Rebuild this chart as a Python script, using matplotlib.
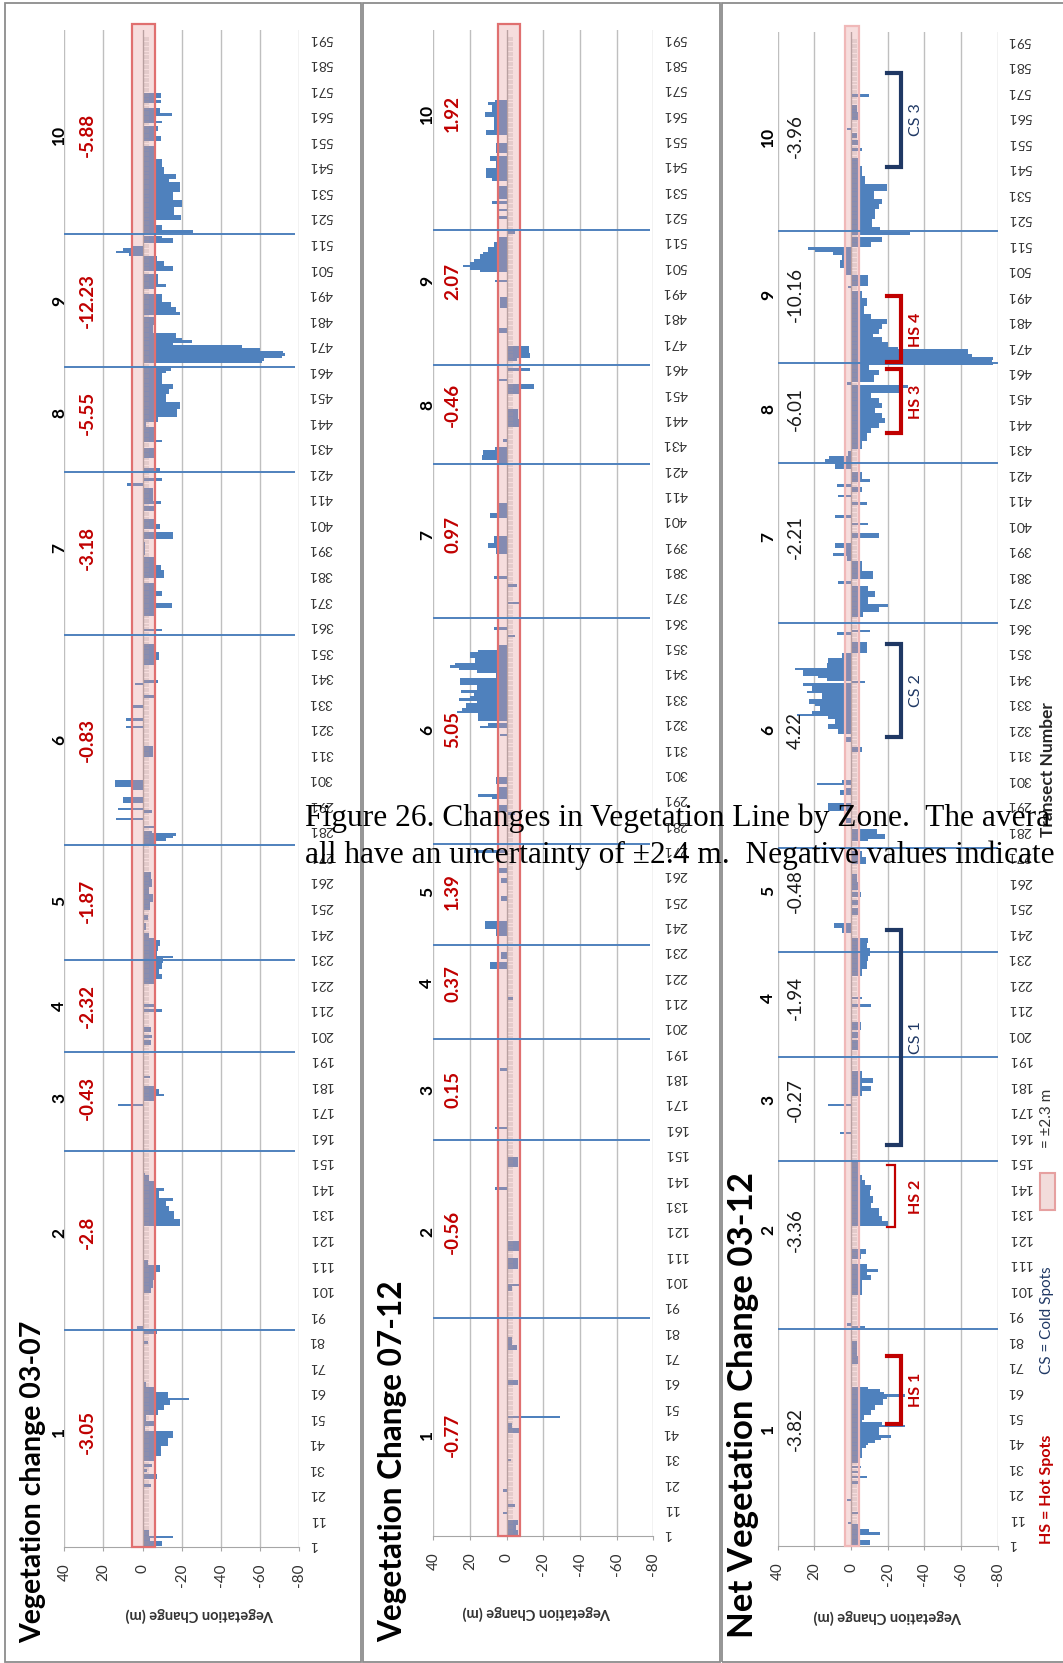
import numpy as np
import matplotlib
matplotlib.use("Agg")
import matplotlib.pyplot as plt
from matplotlib.patches import Rectangle

plt.rcParams['font.family'] = ['Lato', 'DejaVu Sans']

W, H = 1063, 1663

# transect labels / zones
TRANSECT_TICKS = list(range(1, 592, 10))
ZONES = [str(i) for i in range(1, 11)]

P1_AVG = ['-3.05', '-2.8', '-0.43', '-2.32', '-1.87', '-0.83', '-3.18', '-5.55', '-12.23', '-5.88']
P2_AVG = ['-0.77', '-0.56', '0.15', '0.37', '1.39', '5.05', '0.97', '-0.46', '2.07', '1.92']
P3_AVG = ['-3.82', '-3.36', '-0.27', '-1.94', '-0.48', '4.22', '-2.21', '-6.01', '-10.16', '-3.96']

# zone boundaries (transect no.)
P1_BOUNDS = [85, 155, 194, 230, 275, 357, 421, 462, 514]
P2_BOUNDS = [86, 156, 196, 233, 273, 362, 423, 462, 515]
P3_BOUNDS = [85, 151, 192, 233, 274, 362, 425, 464, 516]

# where the zone number / average sits (transect no.)
P1_LABEL_T = [45, 123, 176, 212, 253, 316, 391, 444, 488, 553]
P2_LABEL_T = [40, 120, 176, 218, 254, 318, 395, 446, 495, 561]
P3_LABEL_T = [46, 124, 175, 215, 257, 320, 396, 446, 491, 553]

# bars: (first transect, last transect, change in m)
P1_SEG = [
    (1, 2, -10), (3, 3, -4), (4, 4, -15.5), (5, 6, -3.5), (24, 24, -4.5), (27, 28, -7.5), (30, 30, -2.5), (32, 32, -5),
    (34, 35, -6), (36, 39, -9.5), (40, 42, -13), (43, 45, -15.5), (46, 47, -1.5), (48, 49, -6), (50, 51, -2),
    (52, 53, -8), (54, 55, -11), (56, 57, -14), (58, 58, -24), (59, 60, -13), (61, 62, -7), (63, 64, -2), (75, 76, -1),
    (80, 80, -3), (84, 84, -7.5), (86, 86, 3),
    (100, 101, -4.5), (102, 104, -5.5), (105, 107, -7), (108, 110, -9), (111, 112, -3),
    (126, 128, -19), (129, 131, -16), (132, 133, -13.5), (134, 135, -12), (136, 136, -15.5), (137, 139, -8.5),
    (140, 140, -11), (141, 143, -7), (144, 145, -3.5), (146, 146, -1.5),
    (173, 173, 12.5), (175, 176, -7), (177, 177, -11), (178, 179, -8.3), (180, 180, -6), (184, 184, -4),
    (197, 198, -4.5), (200, 200, -5), (202, 203, -4.5), (210, 210, -10), (212, 212, -6),
    (221, 222, -6), (223, 224, -10), (225, 226, -8.5), (227, 228, -10), (229, 230, -10.5), (231, 231, -15.5),
    (232, 233, -7.5), (234, 235, -8), (236, 237, -9), (238, 238, -6), (239, 240, -3.5),
    (242, 244, -2), (246, 247, -3), (250, 252, -4), (253, 255, -5.5), (256, 258, -3.5), (259, 261, -5), (262, 264, -4.5),
    (275, 276, -7), (277, 277, -12), (278, 278, -15.5), (279, 279, -17), (280, 280, -5), (282, 282, -6), (285, 285, 13.5),
    (288, 288, -5), (289, 289, 12.5), (292, 293, 10), (297, 297, 5), (298, 300, 14),
    (310, 313, -5.5), (321, 321, 8.3), (324, 324, 8.3), (329, 329, 5.8), (333, 333, -6.6), (338, 338, 4), (339, 339, -7.8),
    (346, 347, -7), (348, 350, -8.5), (351, 353, -6.5),
    (359, 359, -10), (365, 367, -6), (368, 369, -15), (370, 372, -7), (373, 374, -10), (375, 377, -6), (380, 382, -11),
    (383, 384, -9.5), (385, 387, -6), (389, 393, -1.5),
    (395, 397, -15.5), (399, 400, -9), (401, 402, -6), (406, 407, -7), (409, 409, -9.5), (410, 414, -5.5), (416, 416, 8),
    (418, 418, -10), (421, 422, -8.7),
    (427, 430, -6), (433, 433, -10), (434, 438, -6), (439, 440, -2), (441, 442, -8), (443, 445, -17.5), (446, 448, -19),
    (449, 451, -12), (452, 453, -13.5), (454, 455, -15.5), (456, 459, -10), (460, 460, -12), (461, 462, -14.5),
    (464, 464, -61), (465, 465, -62), (466, 466, -71.5), (467, 467, -73), (468, 468, -72), (469, 469, -60), (470, 470, -51),
    (471, 471, -15.5), (472, 472, -25.5), (473, 473, -20), (474, 475, -17), (476, 478, -5.5), (479, 481, -6.5),
    (483, 483, -19), (484, 485, -17), (486, 487, -14.5), (488, 490, -10), (493, 493, -7), (494, 494, -12), (495, 498, -8),
    (500, 501, -15.5), (502, 503, -11), (504, 505, -7.5),
    (506, 506, 7), (507, 507, 13.5), (508, 508, 10), (509, 509, 6), (511, 512, -15.5), (513, 513, -10),
    (515, 515, -26), (516, 517, -10), (518, 519, -6), (520, 521, -19.5), (522, 524, -16), (525, 527, -20), (528, 530, -15.5),
    (531, 534, -19), (535, 535, -13.5), (536, 537, -17), (538, 540, -11),
    (541, 543, -10), (544, 546, -7), (547, 548, -6), (551, 552, -9.5), (553, 554, -6), (555, 556, -8), (558, 558, -10),
    (559, 560, -7), (561, 561, -15), (562, 563, -9), (566, 566, -9.5), (567, 567, -6), (568, 569, -9.5),
]

P2_SEG = [
    (1, 2, -6), (3, 4, -5), (5, 6, -6), (9, 9, 2), (12, 12, -4.5), (18, 18, 2), (30, 30, -2.5), (41, 42, -8), (43, 44, -3),
    (47, 47, -29), (60, 61, -6), (74, 75, -5.5), (76, 78, -3),
    (97, 98, -3), (99, 99, -8), (106, 109, -6), (113, 116, -7.5), (137, 137, 6.4), (146, 149, -6),
    (161, 161, 6.4), (184, 184, 3.6), (212, 212, -3.6), (224, 226, 9), (228, 230, 3),
    (237, 239, 6), (240, 242, 12), (251, 252, 3), (258, 259, 3), (262, 263, 4.5), (270, 270, 18),
    (285, 285, -4.5), (286, 288, 5), (291, 291, 8), (292, 292, 15.5), (293, 295, 4), (297, 299, 6), (316, 316, 3.6),
    (319, 319, 14.5), (320, 320, 10), (322, 324, 15.5), (325, 325, 27),
    (326, 326, 24.5), (327, 328, 22), (329, 329, 16), (330, 330, 26), (331, 331, 20), (332, 332, 18), (333, 333, 25),
    (334, 335, 16), (336, 338, 25.5),
    (339, 340, 6), (341, 341, 16), (342, 342, 26), (343, 343, 31), (344, 344, 28), (345, 346, 17), (347, 348, 20),
    (349, 349, 15.5), (350, 351, 5.5), (355, 355, -4.5), (358, 358, 7),
    (368, 368, -8), (375, 375, -5.5), (378, 378, 7), (388, 389, 6), (390, 391, 10), (392, 392, 7), (393, 394, 7),
    (402, 403, 9), (404, 407, 5.5),
    (423, 424, 5.5), (425, 426, 13.6), (427, 428, 12.7), (429, 429, 6.4), (432, 432, 2), (438, 440, -7), (441, 444, -6),
    (451, 452, -7), (453, 454, -15), (456, 456, 5.5), (460, 460, -13),
    (464, 464, -5.5), (465, 466, -12.5), (467, 469, -12), (475, 476, 4.5), (485, 488, 3.5), (495, 495, 6.4),
    (499, 499, 14.5), (500, 500, 20), (501, 501, 23.6), (502, 502, 20), (503, 503, 18), (504, 505, 14.5), (506, 506, 12.7),
    (507, 508, 10), (509, 510, 7), (511, 512, 5.5),
    (514, 515, -4.5), (520, 520, 4.5), (523, 523, 5.5), (526, 526, 8), (528, 532, 5.5), (535, 535, 8), (536, 539, 11),
    (540, 542, 6), (543, 544, 9), (546, 549, 6), (553, 554, 11), (555, 556, 7), (557, 559, 7), (560, 561, 12),
    (562, 564, 8), (565, 565, 10), (566, 566, 6.4),
]

P3_SEG = [
    (1, 2, -10.5), (3, 4, -5), (5, 5, -16), (6, 6, -10), (7, 8, -4), (9, 9, 1.5), (13, 13, -4.5), (18, 18, 2), (25, 25, -4),
    (27, 27, -8.5), (29, 29, -4), (31, 31, -5.5), (33, 34, -4.5), (35, 38, -6), (39, 39, -8), (40, 40, -9.5), (41, 41, -13),
    (42, 42, -16.5), (43, 43, -22), (44, 46, -15), (47, 47, -29.5), (48, 48, -17), (49, 49, -6),
    (50, 51, -7), (52, 53, -11), (54, 55, -13), (56, 57, -17.5), (58, 58, -19.5), (59, 59, -29.5), (60, 60, -18),
    (61, 61, -16), (62, 62, -9.5), (72, 74, -5), (75, 80, -3), (86, 86, -7.6), (87, 87, 2.4),
    (99, 103, -6), (104, 104, -6), (105, 106, -11), (107, 107, -8.5), (108, 108, -14.5), (109, 110, -8.5), (113, 114, -5.5),
    (115, 116, -8),
    (126, 127, -20), (128, 129, -17), (130, 132, -15), (133, 134, -11), (135, 137, -12), (138, 139, -10.4), (140, 141, -11),
    (142, 143, -7.5), (144, 145, -5.8), (146, 150, -5),
    (162, 162, 6), (173, 173, 12.4), (177, 178, -6), (179, 180, -11), (181, 181, -6), (182, 183, -12), (184, 186, -6),
    (195, 198, -5), (200, 201, -4), (203, 205, -5.5), (212, 212, -11), (215, 215, -5.8), (224, 226, -6), (227, 229, -8.5),
    (230, 231, -9.5), (232, 234, -10.4), (235, 236, -8.5), (237, 238, -9.5),
    (241, 242, 5), (243, 244, 9.5), (248, 250, -5), (252, 253, -4.5), (255, 256, -5.5), (258, 260, -4.5), (261, 263, -3.5),
    (268, 270, -8), (271, 272, -6),
    (277, 277, -9.5), (278, 279, -18.5), (280, 281, -14), (284, 285, 3.3), (289, 291, 12.4), (295, 296, 6), (297, 297, 3),
    (299, 299, 18.7), (300, 300, 5), (312, 313, -5.8), (316, 317, 3.3),
    (319, 320, 7), (321, 322, 12.4), (323, 324, 9), (325, 325, 12.4), (326, 326, 29.6), (327, 327, 21.5), (328, 329, 17),
    (330, 330, 19.6), (331, 332, 23), (333, 334, 16), (335, 335, 24), (336, 337, 21.5), (338, 338, 26), (339, 339, -7.6),
    (340, 340, 13.3), (341, 341, 17.8), (342, 343, 26), (344, 344, 30.5), (345, 346, 13), (347, 348, 12.4), (349, 350, 5),
    (351, 354, -8.5), (358, 358, 7.8), (359, 359, -10.4),
    (365, 366, -6.7), (367, 368, -15), (369, 369, -20.4), (370, 372, -9.5), (373, 374, -13), (375, 376, -9.5), (378, 378, 7),
    (380, 380, -12), (381, 382, -12), (383, 386, -6), (387, 388, 2.4), (389, 389, 9.6), (390, 391, 3), (392, 393, 8.7),
    (396, 397, -15), (401, 401, -9.5), (404, 404, 8.7), (409, 409, -8.5), (412, 412, 7), (414, 415, -6), (416, 416, 7.8),
    (418, 418, -10.4), (419, 421, -6), (423, 424, 9), (425, 426, 14.2), (427, 427, 12),
    (428, 429, 1.5), (431, 433, -6), (434, 436, -8.5), (437, 438, -11), (439, 440, -15), (441, 442, -18.5), (443, 444, -16.7),
    (445, 446, -13), (447, 448, -16.7), (449, 450, -15), (451, 452, -11), (453, 454, -26), (455, 455, -31), (456, 456, 2.4),
    (457, 459, -12.5), (460, 461, -15), (462, 463, -10),
    (464, 464, -77.6), (465, 465, -76.7), (466, 466, -77.6), (467, 467, -66), (468, 469, -64), (470, 470, -25.8),
    (471, 472, -20.4), (473, 474, -16.7), (475, 475, -12), (476, 477, -15), (478, 479, -16.7), (480, 481, -19.5),
    (482, 483, -11),
    (484, 486, -7), (487, 489, -8.5), (490, 492, -6), (494, 494, 1.5), (495, 498, -9), (499, 501, 3.3), (502, 504, 6),
    (505, 506, 5), (507, 507, 9.6), (508, 508, 19.6), (509, 509, 23.3), (510, 511, -11), (512, 513, -16.7),
    (515, 515, -32), (516, 517, -15.8), (518, 520, -11.3), (521, 522, -13), (523, 524, -13), (525, 526, -15),
    (527, 528, -16.7), (529, 531, -12.7), (532, 534, -19.5), (535, 537, -7.6), (538, 541, -6), (542, 544, -5),
    (548, 548, -5.8), (550, 551, -4), (553, 554, -3), (556, 556, 2.4), (560, 562, -5), (563, 565, -3.5), (569, 569, -9.8),
]

# hot / cold spot brackets on the net panel
BR_LABELS = ['CS 3', 'HS 4', 'HS 3', 'CS 2', 'CS 1', 'HS 2', 'HS 1']
BR_START = [541, 464.4, 436.5, 317.3, 157.4, 125, 48]
BR_END = [578, 490.3, 461.6, 353.8, 241.6, 149.3, 74.4]

BLUE = '#4F81BD'
RED = '#C00000'
NAVY = '#1F3864'
GRID = '#BFBFBF'
TXT = '#333333'

fig = plt.figure(figsize=(W / 100, H / 100), dpi=100)
fig.patch.set_facecolor('white')


def fx(x):
    return x / W


def fy(y):
    return 1 - y / H


def add_ax(x0, x1, ytop, ybot):
    return fig.add_axes([fx(x0), fy(ybot), (x1 - x0) / W, (ybot - ytop) / H])


# panel frames
for x0, x1 in [(5, 361), (363, 720), (722, 1075)]:
    fig.patches.append(Rectangle((fx(x0), fy(1662)), (x1 - x0) / W, (1662 - 3) / H,
                                 transform=fig.transFigure, fill=False,
                                 edgecolor='#8C8C8C', lw=1.3, zorder=0))


def panel(ax, segs, bounds, label_t, avgs, avg_color, avg_bold, band, band_edge, line_end, num_v, avg_v):
    ax.set_xlim(40, -80)
    ax.set_ylim(0, 594)
    ax.set_facecolor('none')
    first = np.array([s[0] for s in segs])
    last = np.array([s[1] for s in segs])
    vals = np.array([s[2] for s in segs])
    ax.barh((first + last) / 2, vals, height=last - first + 1, color=BLUE, lw=0, zorder=2)

    # category axis ticks sitting on zero
    cats = np.arange(1, 592)
    ax.hlines(cats, 0, -3.5, color='#8C8C8C', lw=0.35, zorder=3)
    ax.axvline(0, color='#A0A0A0', lw=0.8, zorder=3)

    # uncertainty band
    ax.add_patch(Rectangle((band[1], 0), band[0] - band[1], 596.5, facecolor='#E8A0A0', alpha=0.35,
                           edgecolor='none', zorder=4, clip_on=False))
    ax.add_patch(Rectangle((band[1], 0), band[0] - band[1], 596.5, fill=False,
                           edgecolor=band_edge, lw=1.6, zorder=4, clip_on=False))

    ax.hlines(bounds, 40, line_end, color=BLUE, lw=1.4, zorder=5)

    for z, t, a in zip(ZONES, label_t, avgs):
        ax.text(num_v, t, z, rotation=90, ha='center', va='center', fontsize=12.5,
                fontweight='bold', color='black', clip_on=False)
        ax.text(avg_v, t, a, rotation=90, ha='center', va='center', fontsize=13.5,
                fontweight='bold' if avg_bold else 'normal', color=avg_color, clip_on=False)

    ax.set_xticks([40, 20, 0, -20, -40, -60, -80])
    ax.set_xticklabels(['40', '20', '0', '-20', '-40', '-60', '-80'], rotation=90)
    ax.yaxis.tick_right()
    ax.set_yticks(TRANSECT_TICKS)
    ax.set_yticklabels([str(t) for t in TRANSECT_TICKS], rotation=180)
    ax.tick_params(axis='x', length=3, pad=9, color='#A6A6A6', labelsize=11, labelcolor=TXT)
    ax.tick_params(axis='y', length=0, pad=7, labelsize=10, labelcolor=TXT)
    ax.grid(axis='x', color=GRID, lw=1)
    ax.set_axisbelow(True)
    for s in ['top', 'left', 'right']:
        ax.spines[s].set_visible(False)
    ax.spines['bottom'].set_color('#A6A6A6')


ax1 = add_ax(64.3, 299, 30, 1547)
panel(ax1, P1_SEG, P1_BOUNDS, P1_LABEL_T, P1_AVG, RED, True, (5.3, -6.3), '#E07070', -78, 42.6, 28.2)
ax2 = add_ax(433.3, 653.3, 30, 1536)
panel(ax2, P2_SEG, P2_BOUNDS, P2_LABEL_T, P2_AVG, RED, True, (4.5, -7.3), '#E07070', -78, 43.3, 29.5)
ax3 = add_ax(777.7, 997.7, 32, 1546)
panel(ax3, P3_SEG, P3_BOUNDS, P3_LABEL_T, P3_AVG, '#1A1A1A', False, (3.3, -4.4), '#F0B8B8', -80, 45.3, 30.5)

# brackets on the net panel
for lab, t0, t1 in zip(BR_LABELS, BR_START, BR_END):
    hot = lab.startswith('HS')
    col = RED if hot else NAVY
    vv = -24 if lab == 'HS 2' else -27
    lw = 1.6 if lab == 'HS 2' else 3
    ax3.plot([-19.5, vv, vv, -19.5], [t0, t0, t1, t1], color=col, lw=lw, solid_joinstyle='miter',
             zorder=6, clip_on=False)
    ax3.text(-35.5, (t0 + t1) / 2, lab, rotation=90, ha='center', va='center', fontsize=11.5,
             color=col, fontweight='bold' if hot else 'normal', zorder=6)

# titles
for x, y, s, fs in [(33, 1643, 'Vegetation change 03-07', 20.5), (393, 1642, 'Vegetation Change 07-12', 22.7),
                    (743, 1638, 'Net Vegetation Change 03-12', 25)]:
    fig.text(fx(x), fy(y), s, rotation=90, rotation_mode='anchor', ha='left', va='center',
             fontsize=fs, fontweight='bold', color='black')

# value axis titles (upside down)
for x, y in [(200, 1615), (537, 1613), (888, 1617)]:
    fig.text(fx(x), fy(y), 'Vegetation Change (m)', rotation=180, ha='center', va='center',
             fontsize=10.5, fontweight='bold', color=TXT)

fig.text(fx(1048), fy(770), 'Transect Number', rotation=90, ha='center', va='center',
         fontsize=12.5, fontweight='bold', color='#262626')

# legend on the right
fig.text(fx(1047), fy(1489), 'HS = Hot Spots', rotation=90, ha='center', va='center',
         fontsize=11.5, fontweight='bold', color=RED)
fig.text(fx(1047), fy(1320), 'CS = Cold Spots', rotation=90, ha='center', va='center',
         fontsize=11, color=NAVY)
fig.patches.append(Rectangle((fx(1040), fy(1210)), 15 / W, 37 / H, transform=fig.transFigure,
                             facecolor='#F2DCDB', edgecolor='#E6A0A0', lw=1.5))
fig.text(fx(1047), fy(1118), '= \u00b12.3 m', rotation=90, ha='center', va='center',
         fontsize=11, color=TXT)

# caption from the page, lying over the charts (cut at the page edge as in the source)
cap1 = 'Figure 26. Changes in Vegetation Line by Zone.  The avera'
cap2 = 'all have an uncertainty of \u00b12.4 m.  Negative values indicate'
fig.text(fx(305), fy(826), cap1, fontfamily='Liberation Serif', fontsize=22.6, va='baseline',
         color='black', zorder=10)
fig.text(fx(305), fy(863), cap2, fontfamily='Liberation Serif', fontsize=22.6, va='baseline',
         color='black', zorder=10)

fig.savefig('out.png', dpi=100)
